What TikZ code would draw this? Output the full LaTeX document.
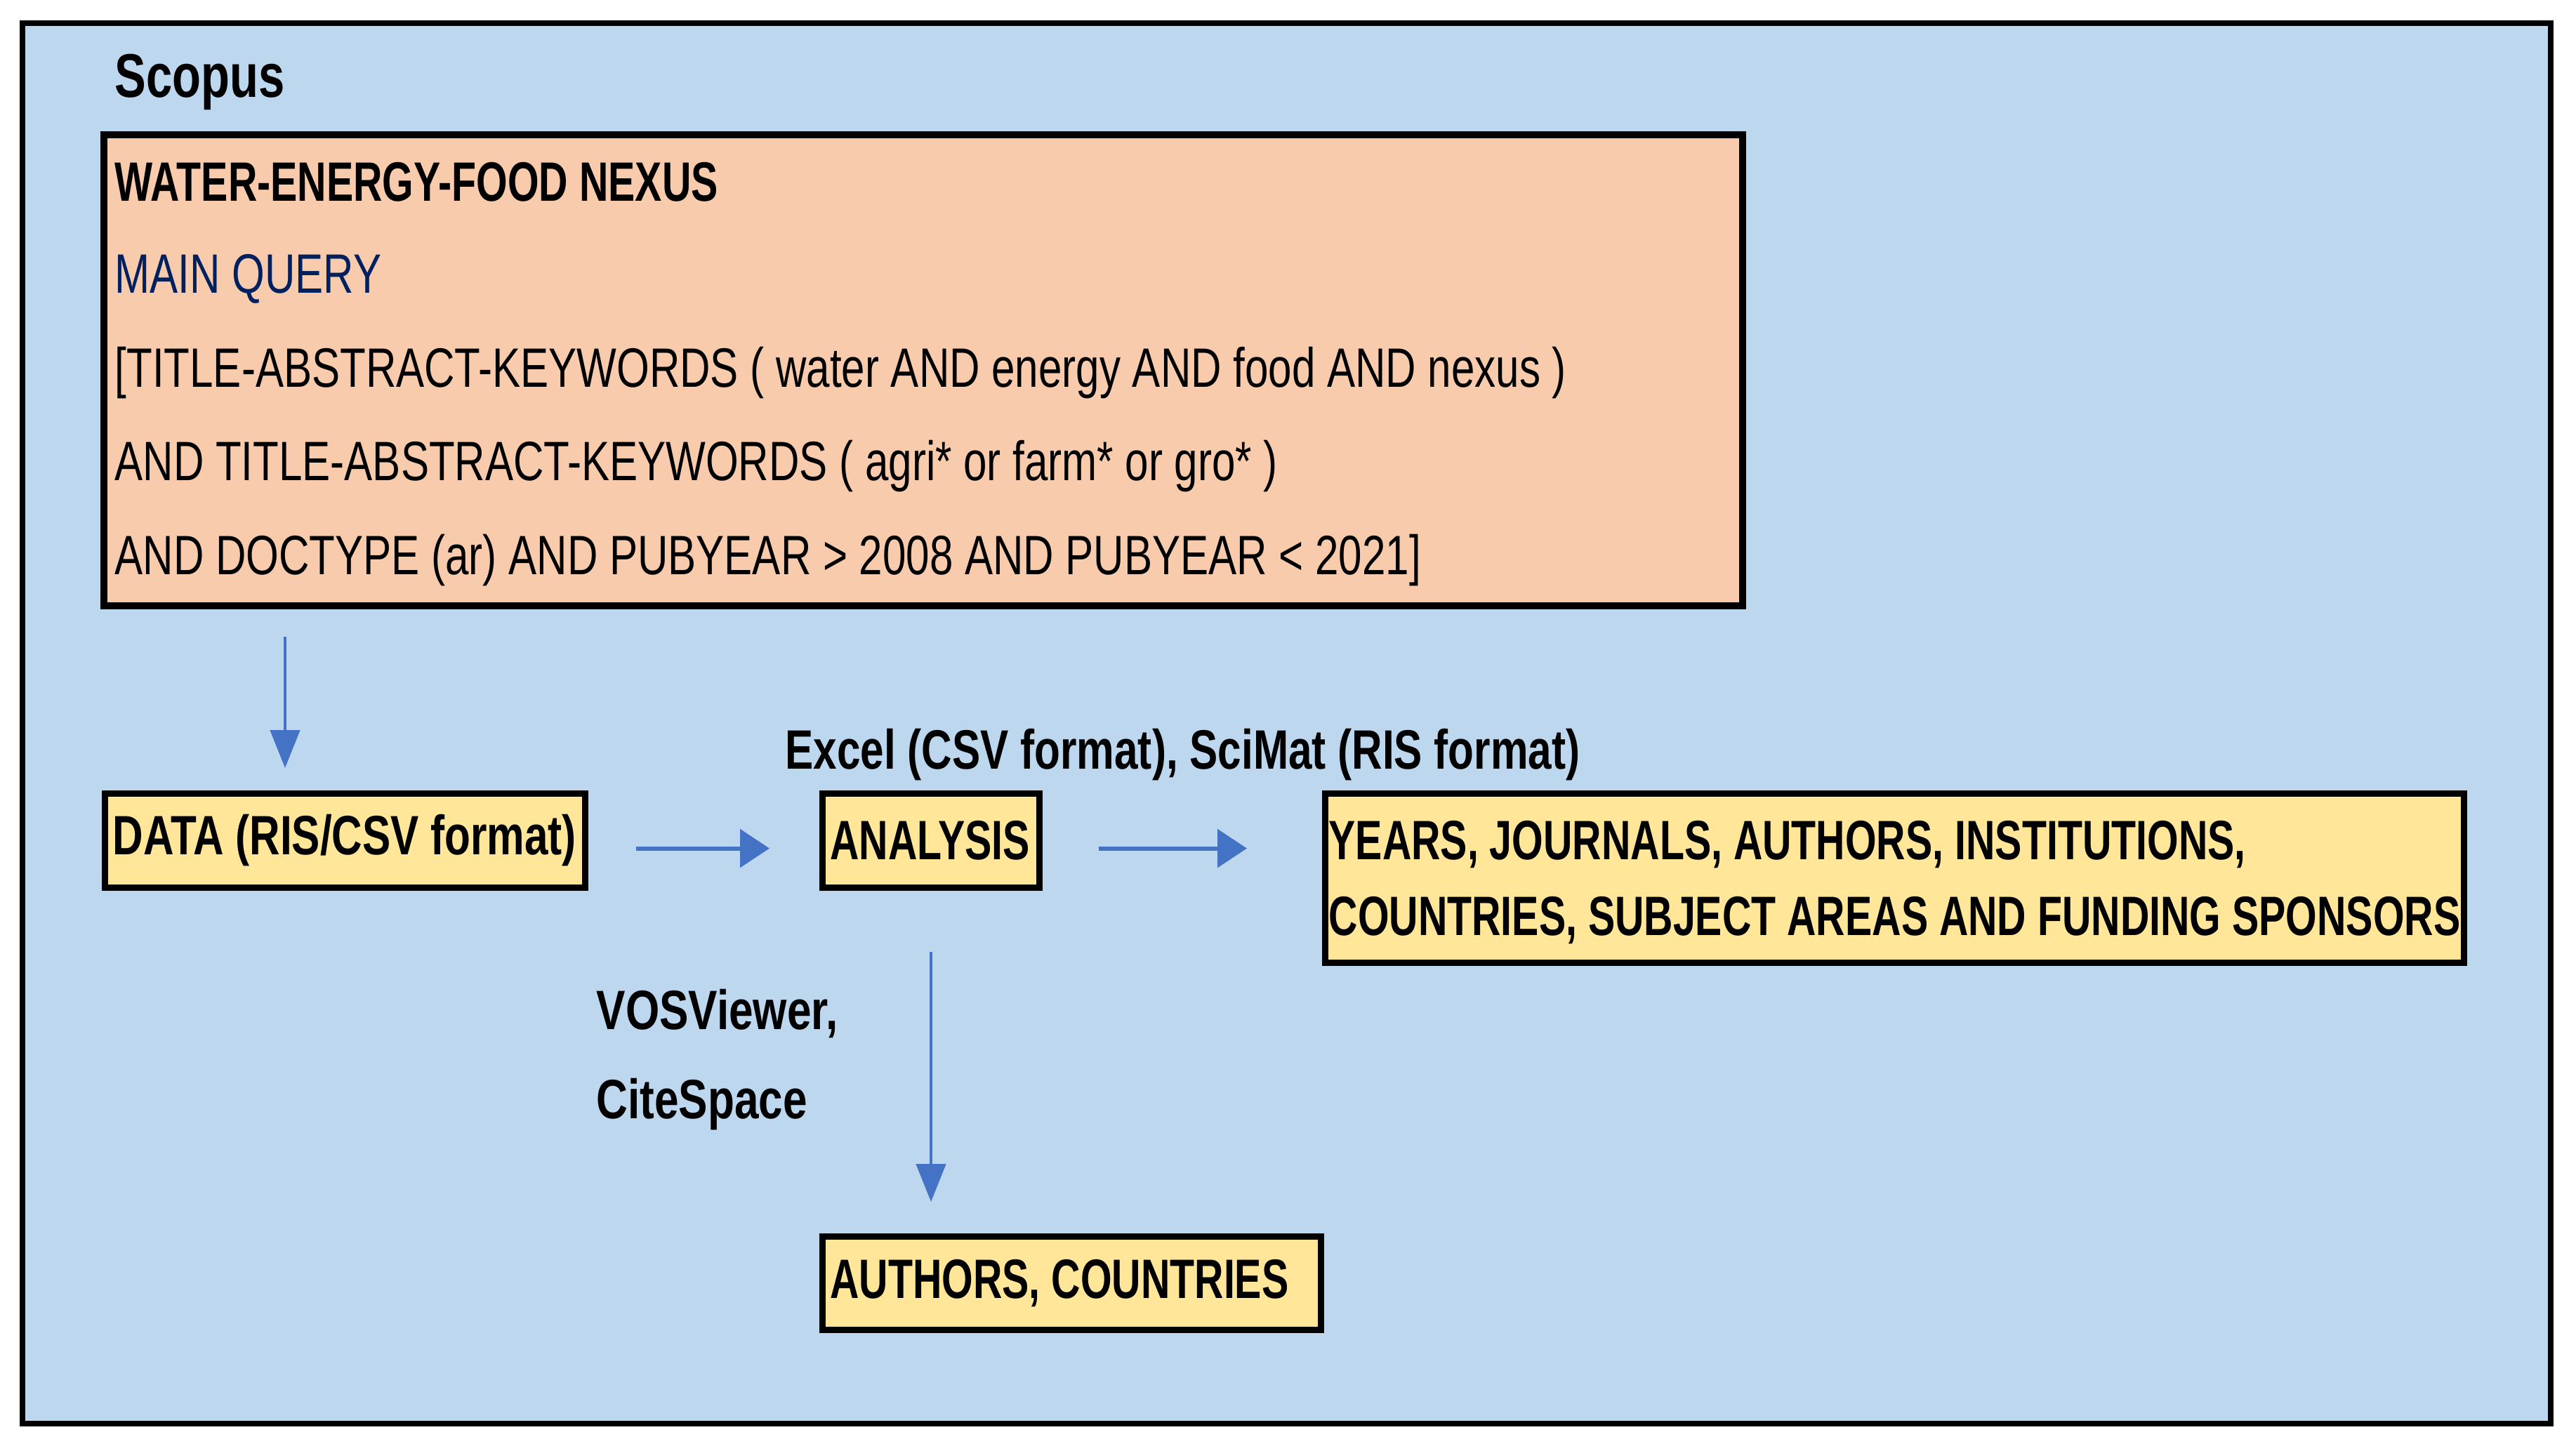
\documentclass[tikz,border=0pt]{standalone}
\usepackage{fontspec}
\setmainfont{Liberation Sans}[FakeStretch=0.76]
\newfontfamily\boldnarrow{Liberation Sans}[FakeStretch=0.725]
\newfontfamily\boldmid{Liberation Sans}[FakeStretch=0.762]
\newfontfamily\boldwide{Liberation Sans}[FakeStretch=0.785]
\usetikzlibrary{arrows.meta}
\usetikzlibrary{calc}
\usetikzlibrary{positioning}

\definecolor{bgblue}{HTML}{BDD7EE}
\definecolor{queryorange}{HTML}{F8CBAD}
\definecolor{resultyellow}{HTML}{FFE699}
\definecolor{arrowblue}{HTML}{4472C4}
\definecolor{querynavy}{HTML}{002060}

\begin{document}
\begin{tikzpicture}[
    txt/.style={font=\fontsize{22.5}{27}\selectfont, inner sep=0pt, anchor=base west},
    boldtxt/.style={txt, font=\fontsize{22.5}{27}\selectfont\boldnarrow\bfseries},
    result/.style={draw, line width=0.09cm, fill=resultyellow, inner xsep=0.11cm, inner ysep=0.05cm, font=\fontsize{22.5}{27}\selectfont\boldnarrow\bfseries, minimum height=1.34cm},
    oneline/.style={text width=#1, align=flush left},
    vflow/.style={draw=arrowblue, line width=0.045cm, -{Triangle[length=0.54cm,width=0.42cm]}},
    hflow/.style={draw=arrowblue, line width=0.06cm, -{Triangle[length=0.42cm,width=0.54cm]}}
]
    \useasboundingbox[fill=white] (0,0) rectangle (36.69,-20.66);

    \coordinate (drop) at (4.06,-10);

    % scopus frame
    \draw[line width=0.08cm, fill=bgblue] (0.32,-0.33) rectangle (36.33,-20.28);
    \node[boldtxt, font=\fontsize{25}{30}\selectfont\boldmid\bfseries] (scopus) at (1.63,-1.38) {Scopus};

    % query
    \node[draw, line width=0.10cm, fill=queryorange, minimum width=23.34cm, minimum height=6.71cm, inner sep=0pt] (query) at (13.15,-5.275) {};
    \node[boldtxt] (nexus) at (1.63,-2.86) {WATER-ENERGY-FOOD NEXUS};
    \node[txt, text=querynavy] (mainq) at (1.63,-4.17) {MAIN QUERY};
    \node[txt] (qline1) at (1.63,-5.51) {[TITLE-ABSTRACT-KEYWORDS ( water AND energy AND food AND nexus )};
    \node[txt] (qline2) at (1.63,-6.84) {AND TITLE-ABSTRACT-KEYWORDS ( agri* or farm* or gro* )};
    \node[txt] (qline3) at (1.63,-8.18) {AND DOCTYPE (ar) AND PUBYEAR > 2008 AND PUBYEAR < 2021]};

    % steps
    \node[result, oneline=6.62cm, font=\fontsize{22.5}{27}\selectfont\boldmid\bfseries] (data) at (4.915,-11.975) {\mbox{DATA (RIS/CSV format)}};
    \node[result, oneline=2.87cm] (analysis) at (13.26,-11.975) {\mbox{ANALYSIS}};
    \node[result, inner xsep=0.05cm, minimum width=16.22cm, minimum height=2.41cm, align=left, text depth=0pt, font=\fontsize{22.5}{30.6}\selectfont\boldnarrow\bfseries] (years) at (26.985,-12.51) {YEARS, JOURNALS, AUTHORS, INSTITUTIONS,\\COUNTRIES, SUBJECT AREAS AND FUNDING SPONSORS};
    \node[result, oneline=6.88cm, minimum height=1.33cm] (authors) at (15.265,-18.28) {\mbox{AUTHORS, COUNTRIES}};

    \node[boldtxt, font=\fontsize{22.5}{27}\selectfont\boldmid\bfseries] (tools) at (11.18,-10.95) {Excel (CSV format), SciMat (RIS format)};
    \node[boldtxt, font=\fontsize{22.5}{27}\selectfont\boldwide\bfseries] (vos) at (8.49,-14.66) {VOSViewer,};
    \node[boldtxt, font=\fontsize{22.5}{27}\selectfont\boldwide\bfseries] (cite) at (8.49,-15.93) {CiteSpace};

    % arrows
    \draw[vflow, shorten <=0.39cm, shorten >=0.32cm] (query.south -| drop) -- (data.north -| drop);
    \draw[hflow, shorten <=0.68cm, shorten >=0.71cm] ([yshift=-0.11cm]data.east) -- ([yshift=-0.11cm]analysis.west);
    \draw[hflow, shorten <=0.80cm, shorten >=1.07cm] ([yshift=-0.11cm]analysis.east) -- ([yshift=-0.11cm]analysis.east -| years.west);
    \draw[vflow, shorten <=0.87cm, shorten >=0.45cm] (analysis.south) -- (analysis.south |- authors.north);

\end{tikzpicture}
\end{document}
